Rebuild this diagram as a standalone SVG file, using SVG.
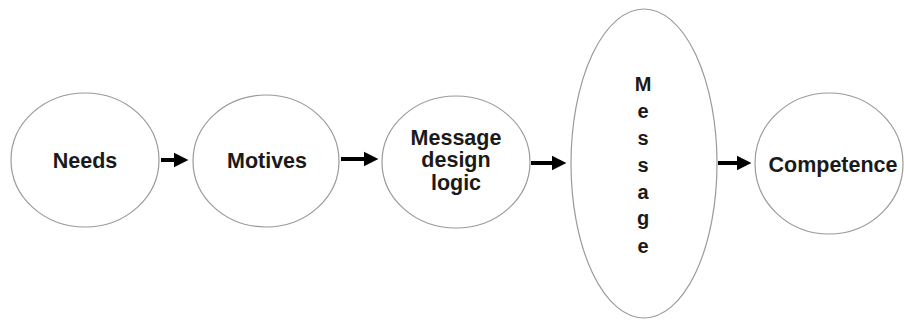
<svg xmlns="http://www.w3.org/2000/svg" width="904" height="320" viewBox="0 0 904 320">
<style>
.n{fill:#fff;stroke:#9a9a9a;stroke-width:1.2}
.t{font-family:"Liberation Sans",Arial,sans-serif;font-weight:bold;font-size:21.5px;fill:#1a1a1a;text-anchor:middle}
.v{font-size:20px}
.c{stroke:#000;stroke-width:4;fill:none;marker-end:url(#ah)}
</style>
<defs>
<marker id="ah" markerWidth="4" markerHeight="4" refX="1" refY="2" orient="auto" markerUnits="strokeWidth" viewBox="0 0 4 4"><path d="M0,0.2 L3.6,2 L0,3.8 Z" fill="#000"/></marker>
</defs>
<rect width="904" height="320" fill="#fff"/>
<g id="needs"><ellipse class="n" cx="85" cy="160" rx="74" ry="67"/><text class="t" x="85" y="168">Needs</text></g>
<g id="motives"><ellipse class="n" cx="266" cy="161" rx="73" ry="66"/><text class="t" x="267" y="168">Motives</text></g>
<g id="mdl"><ellipse class="n" cx="456" cy="162" rx="74" ry="66"/><text class="t" x="456" y="145">Message</text><text class="t" x="456" y="167">design</text><text class="t" x="456" y="190">logic</text></g>
<g id="message"><ellipse class="n" cx="644" cy="163.5" rx="73" ry="154.5"/>
<text class="t v" x="643" y="91">M</text><text class="t v" x="643" y="118">e</text><text class="t v" x="643" y="145">s</text><text class="t v" x="643" y="172">s</text><text class="t v" x="643" y="199">a</text><text class="t v" x="643" y="225">g</text><text class="t v" x="643" y="253">e</text></g>
<g id="competence"><ellipse class="n" cx="829" cy="163.5" rx="74" ry="70.5"/><text class="t" x="833" y="172">Competence</text></g>
<g id="connectors">
<line class="c" x1="161" y1="160" x2="178" y2="160"/>
<line class="c" x1="341" y1="159" x2="368" y2="159"/>
<line class="c" x1="531" y1="163" x2="556" y2="163"/>
<line class="c" x1="718" y1="163" x2="741" y2="163"/>
</g>
</svg>
